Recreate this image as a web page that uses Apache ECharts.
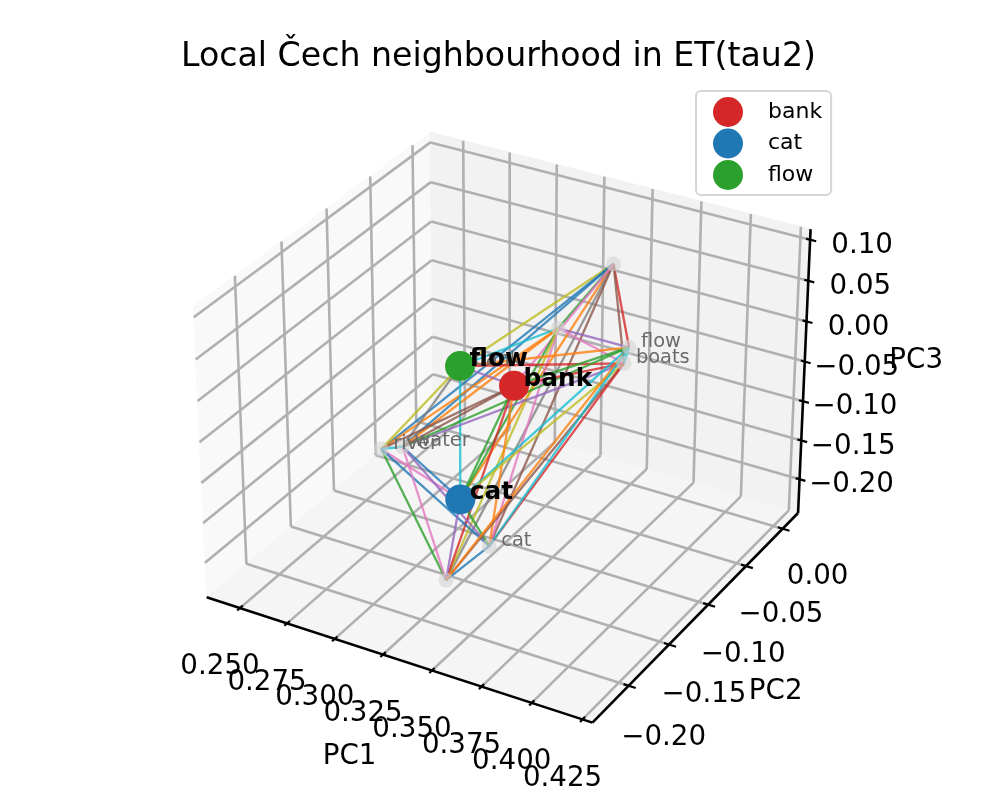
<!DOCTYPE html>
<html>
<head>
<meta charset="utf-8">
<title>Local Čech neighbourhood</title>
<style>
  html, body { margin: 0; padding: 0; background: #fff; }
  #main { width: 997px; height: 797px; }
</style>
<script src="https://cdn.jsdelivr.net/npm/echarts@6/dist/echarts.min.js"></script>
</head>
<body>
<div id="main"></div>
<script>
// anchors first, then the neighbours, same order in every array
const anchorWords = ['bank', 'cat', 'flow'];
const neighbourWords = ['', '', 'flow', 'boats', 'river', 'water', 'cat', '', 'bank'];
const anchorPC1 = [0.3303, 0.3298, 0.2840];
const anchorPC2 = [-0.1017, -0.1644, -0.0607];
const anchorPC3 = [-0.0395, -0.1238, -0.0822];
const neighbourPC1 = [0.3668, 0.3064, 0.3918, 0.4023, 0.2395, 0.2546, 0.3757, 0.3225, 0.2845];
const neighbourPC2 = [-0.0693, 0.0096, -0.1110, -0.1434, -0.0590, -0.0660, -0.2357, -0.1654, -0.0602];
const neighbourPC3 = [0.1050, -0.0797, 0.0568, 0.0729, -0.2222, -0.2020, -0.0787, -0.2301, -0.0822];

// node ids: 0-2 anchors, 3.. neighbours
const edgeStart = [3, 3, 3, 3, 3, 3, 3, 3, 3, 3, 4, 4, 4, 4, 4, 4, 4, 4, 2, 2, 2, 2, 2, 2, 6, 5, 0, 0, 0, 0, 0, 0, 0, 7, 7, 7, 8, 8, 8, 7, 1, 1, 1, 1, 10, 10, 10, 9, 9, 5];
const edgeEnd = [2, 7, 8, 4, 1, 10, 9, 5, 6, 0, 2, 7, 8, 5, 6, 1, 9, 10, 1, 7, 8, 5, 6, 0, 8, 8, 7, 8, 1, 9, 10, 5, 6, 10, 1, 9, 10, 1, 9, 8, 9, 10, 5, 6, 9, 6, 5, 6, 5, 6];
const edgeCycle = [8, 0, 0, 2, 1, 7, 5, 3, 5, 6, 9, 1, 1, 4, 6, 2, 6, 8, 9, 8, 7, 1, 3, 4, 4, 2, 5, 5, 2, 1, 3, 2, 3, 2, 6, 0, 6, 0, 4, 9, 2, 4, 9, 8, 0, 5, 1, 3, 9, 9];

const pc1Limits = [0.2321, 0.4298];
const pc2Limits = [-0.2434, 0.0215];
const pc3Limits = [-0.2440, 0.1127];
const pc1Ticks = ['0.250', '0.275', '0.300', '0.325', '0.350', '0.375', '0.400', '0.425'];
const pc2Ticks = ['\u22120.20', '\u22120.15', '\u22120.10', '\u22120.05', '0.00'];
const pc3Ticks = ['\u22120.20', '\u22120.15', '\u22120.10', '\u22120.05', '0.00', '0.05', '0.10'];

const tab10 = ['#1f77b4', '#ff7f0e', '#2ca02c', '#d62728', '#9467bd', '#8c564b', '#e377c2', '#7f7f7f', '#bcbd22', '#17becf'];
const anchorColors = ['#d62728', '#1f77b4', '#2ca02c'];
const FONT = 'DejaVu Sans';

// same camera as a default matplotlib 3d axes: elev 30, azim -60, dist 10
const boxHalf = [0.5715, 0.5715, 0.4286];
const camU = [0.866025, 0.5, 0];
const camV = [-0.25, 0.433013, 0.866025];
const camW = [0.433013, -0.75, 0.5];
const dot = (a, b) => a[0] * b[0] + a[1] * b[1] + a[2] * b[2];
const unit = (v, lim, h) => (2 * (v - lim[0]) / (lim[1] - lim[0]) - 1) * h;

function project(x, y, z) {
  const p = [unit(x, pc1Limits, boxHalf[0]), unit(y, pc2Limits, boxHalf[1]), unit(z, pc3Limits, boxHalf[2])];
  const d = 10 - dot(camW, p);
  return [dot(camU, p) / d, dot(camV, p) / d];
}

// hidden value axes carry the projected plane
const scale = 3868;
const originX = 507.6;
const originY = 413.8;
const planeX = [-originX / scale, (997 - originX) / scale];
const planeY = [(originY - 797) / scale, originY / scale];

const [x0, x1] = pc1Limits;
const [y0, y1] = pc2Limits;
const [z0, z1] = pc3Limits;

function seg(a, b, c) {
  return project(a[0], a[1], a[2]).concat(project(b[0], b[1], b[2]), c === undefined ? [] : [c]);
}
function quad(a, b, c, d) {
  return [a, b, c, d].reduce((acc, q) => acc.concat(project(q[0], q[1], q[2])), []);
}

const paneData = [
  quad([x0, y0, z0], [x0, y1, z0], [x0, y1, z1], [x0, y0, z1]),
  quad([x0, y1, z0], [x1, y1, z0], [x1, y1, z1], [x0, y1, z1]),
  quad([x0, y0, z0], [x1, y0, z0], [x1, y1, z0], [x0, y1, z0])
];
const paneColors = ['#f9f9f9', '#f2f2f2', '#f5f5f5'];

const tx = pc1Ticks.map(Number);
const ty = pc2Ticks.map(t => Number(t.replace('\u2212', '-')));
const tz = pc3Ticks.map(t => Number(t.replace('\u2212', '-')));

const gridData = [];
tx.forEach(v => {
  gridData.push(seg([v, y0, z0], [v, y1, z0]));
  gridData.push(seg([v, y1, z0], [v, y1, z1]));
});
ty.forEach(v => {
  gridData.push(seg([x0, v, z0], [x1, v, z0]));
  gridData.push(seg([x0, v, z0], [x0, v, z1]));
});
tz.forEach(v => {
  gridData.push(seg([x0, y0, v], [x0, y1, v]));
  gridData.push(seg([x0, y1, v], [x1, y1, v]));
});

const axisData = [
  seg([x0, y0, z0], [x1, y0, z0]),
  seg([x1, y0, z0], [x1, y1, z0]),
  seg([x1, y1, z0], [x1, y1, z1])
];
const tickData = [];
tx.forEach(v => tickData.push(seg([v, y0 - 0.003, z0], [v, y0 + 0.003, z0])));
ty.forEach(v => tickData.push(seg([x1 - 0.0025, v, z0], [x1 + 0.0035, v, z0])));
tz.forEach(v => tickData.push(seg([x1 - 0.002, y1, v], [x1 + 0.003, y1, v])));

const allPC1 = anchorPC1.concat(neighbourPC1);
const allPC2 = anchorPC2.concat(neighbourPC2);
const allPC3 = anchorPC3.concat(neighbourPC3);
const nodeAt = i => [allPC1[i], allPC2[i], allPC3[i]];
const edgeData = edgeStart.map((s, i) => seg(nodeAt(s), nodeAt(edgeEnd[i]), edgeCycle[i]));

function segmentSeries(name, data, color, width, z) {
  return {
    type: 'custom',
    name: name,
    silent: true,
    z: z,
    clip: false,
    data: data,
    renderItem: (params, api) => {
      const a = api.coord([api.value(0), api.value(1)]);
      const b = api.coord([api.value(2), api.value(3)]);
      return {
        type: 'line',
        shape: { x1: a[0], y1: a[1], x2: b[0], y2: b[1] },
        style: { stroke: color || tab10[api.value(4)], lineWidth: width, opacity: color ? 1 : 0.8 }
      };
    }
  };
}

// text pinned to a projected point, dx/dy in screen pixels (dy may depend on the index)
function textSeries(name, points, texts, dx, dy, style, z) {
  return {
    type: 'custom',
    name: name,
    silent: true,
    z: z,
    clip: false,
    data: points,
    renderItem: (params, api) => {
      const a = api.coord([api.value(0), api.value(1)]);
      const off = typeof dy === 'function' ? dy(params.dataIndex) : dy;
      return {
        type: 'text',
        x: a[0] + dx,
        y: a[1] + off,
        style: Object.assign({ text: texts[params.dataIndex], fontFamily: FONT, verticalAlign: 'middle' }, style)
      };
    }
  };
}

const anchorSeries = anchorWords.map((w, i) => ({
  type: 'scatter',
  name: w,
  z: 6,
  silent: true,
  symbolSize: 30,
  itemStyle: { color: anchorColors[i], opacity: 1 },
  data: [project(anchorPC1[i], anchorPC2[i], anchorPC3[i])]
}));

const option = {
  animation: false,
  backgroundColor: '#fff',
  title: {
    text: 'Local Čech neighbourhood in ET(tau2)',
    left: 'center',
    top: 36,
    textStyle: { fontFamily: FONT, fontSize: 33.2, fontWeight: 'normal', color: '#000' }
  },
  legend: {
    data: anchorWords,
    orient: 'vertical',
    left: 696,
    top: 91,
    padding: [6, 9, 5, 17],
    itemWidth: 30,
    itemHeight: 30,
    itemGap: 1.5,
    icon: 'circle',
    backgroundColor: '#fff',
    borderColor: '#d5d5d5',
    borderWidth: 2,
    borderRadius: 5,
    selectedMode: false,
    textStyle: { fontFamily: FONT, fontSize: 22, color: '#000', padding: [0, 0, 0, 20] }
  },
  grid: { left: 0, right: 0, top: 0, bottom: 0 },
  xAxis: { type: 'value', min: planeX[0], max: planeX[1], show: false },
  yAxis: { type: 'value', min: planeY[0], max: planeY[1], show: false },
  series: [
    {
      type: 'custom',
      name: 'panes',
      silent: true,
      z: 1,
      clip: false,
      data: paneData,
      renderItem: (params, api) => {
        const pts = [0, 2, 4, 6].map(k => api.coord([api.value(k), api.value(k + 1)]));
        return {
          type: 'polygon',
          shape: { points: pts },
          style: { fill: paneColors[params.dataIndex], stroke: paneColors[params.dataIndex], lineWidth: 1 }
        };
      }
    },
    segmentSeries('grid', gridData, '#b0b0b0', 2.6, 2),
    segmentSeries('axes', axisData, '#000', 2.6, 3),
    segmentSeries('ticks', tickData, '#000', 2.2, 3),
    segmentSeries('edges', edgeData, null, 2.3, 4),
    {
      type: 'scatter',
      name: 'neighbours',
      z: 5,
      silent: true,
      symbolSize: 15,
      itemStyle: { color: 'rgba(211,211,211,0.6)', opacity: 1 },
      data: neighbourPC1.map((v, i) => project(v, neighbourPC2[i], neighbourPC3[i]))
    }
  ].concat(anchorSeries, [
    textSeries('neighbour labels', neighbourPC1.map((v, i) => project(v, neighbourPC2[i], neighbourPC3[i])),
      neighbourWords, 12, -5.5, { fontSize: 19.4, fill: '#6a6a6a', align: 'left' }, 7),
    textSeries('anchor labels', anchorPC1.map((v, i) => project(v, anchorPC2[i], anchorPC3[i])),
      anchorWords, 9.5, -6.5, { fontSize: 24.8, fontWeight: 'bold', fill: '#000', align: 'left' }, 8),
    textSeries('pc1 ticks', tx.map(v => project(v, y0, z0)), pc1Ticks, -20, 59,
      { fontSize: 27.7, fill: '#000', align: 'center' }, 8),
    textSeries('pc2 ticks', ty.map(v => project(x1, v, z0)), pc2Ticks, 35, i => 48 + (4 - i) * 0.9,
      { fontSize: 27.7, fill: '#000', align: 'center' }, 8),
    textSeries('pc3 ticks', tz.map(v => project(x1, y1, v)), pc3Ticks, 52, 6,
      { fontSize: 27.7, fill: '#000', align: 'center' }, 8),
    textSeries('pc1 name', [project((x0 + x1) / 2, y0, z0)], ['PC1'], -45, 98,
      { fontSize: 27.7, fill: '#000', align: 'center' }, 8),
    textSeries('pc2 name', [project(x1, (y0 + y1) / 2, z0)], ['PC2'], 76, 79,
      { fontSize: 27.7, fill: '#000', align: 'center' }, 8),
    textSeries('pc3 name', [project(x1, y1, (z0 + z1) / 2)], ['PC3'], 112, -13,
      { fontSize: 27.7, fill: '#000', align: 'center' }, 8)
  ])
};

const chart = echarts.init(document.getElementById('main'));
chart.setOption(option);
</script>
</body>
</html>
